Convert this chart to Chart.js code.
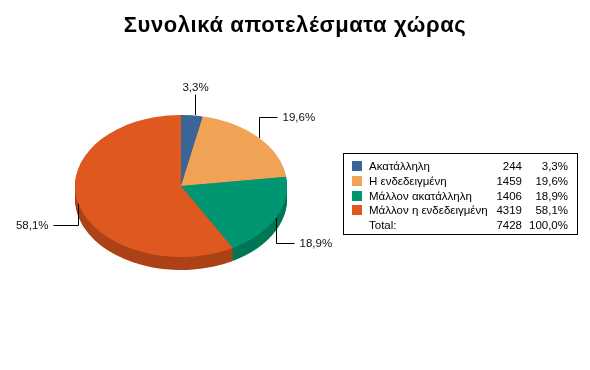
<!DOCTYPE html>
<html>
<head>
<meta charset="utf-8">
<script src="https://cdn.jsdelivr.net/npm/chart.js@4.4.1/dist/chart.umd.min.js"></script>
<style>
  body { margin: 0; background: #fff; font-family: "Liberation Sans", Arial, sans-serif; }
  #wrap { position: relative; width: 590px; height: 370px; }
  #title { position: absolute; left: 0; top: 14px; width: 590px; text-align: center;
           font: bold 22px/21px "Liberation Sans", Arial, sans-serif; letter-spacing: 0.6px; color: #000; }
  #legend { position: absolute; left: 343px; top: 153px; width: 233px; height: 80px;
            border: 1px solid #000; font-size: 11.5px; color: #000; }
  .row { position: absolute; left: 0; height: 15px; width: 233px; line-height: 15px; }
  .sw { position: absolute; left: 8px; top: 2px; width: 10px; height: 10px; }
  .lb { position: absolute; left: 25px; }
  .vl { position: absolute; right: 55px; }
  .pc { position: absolute; right: 9px; }
</style>
</head>
<body>
<div id="wrap">
  <canvas id="myChart" width="590" height="370"></canvas>
  <div id="title">Συνολικά αποτελέσματα χώρας</div>
  <div id="legend"></div>
</div>
<script>
const labels = ['Ακατάλληλη', 'Η ενδεδειγμένη', 'Μάλλον ακατάλληλη', 'Μάλλον η ενδεδειγμένη'];
const counts = [244, 1459, 1406, 4319];
const colors = ['#3b6597', '#f0a354', '#009671', '#de581f'];
const sideColors = ['#2c4c72', '#b57b3f', '#007656', '#ac4217'];

const total = counts.reduce((a, b) => a + b, 0);
const pct = v => (v / total * 100).toFixed(1).replace('.', ',') + '%';

// squash the pie into an ellipse and give it a side
const tilt = 0.67;
const depth = 13;

function squash(ctx, el) {
  ctx.translate(el.x, el.y);
  ctx.scale(1, tilt);
  ctx.translate(-el.x, -el.y);
}

const tiltPlugin = {
  id: 'tilt',
  beforeDatasetsDraw(chart) {
    const ctx = chart.ctx;
    const arcs = chart.getDatasetMeta(0).data;
    for (let d = depth; d >= 1; d--) {
      ctx.save();
      ctx.translate(0, d);
      squash(ctx, arcs[0]);
      arcs.forEach((arc, i) => {
        const bg = arc.options.backgroundColor;
        const bc = arc.options.borderColor;
        arc.options.backgroundColor = sideColors[i];
        arc.options.borderColor = sideColors[i];
        arc.draw(ctx);
        arc.options.backgroundColor = bg;
        arc.options.borderColor = bc;
      });
      ctx.restore();
    }
    ctx.save();
    squash(ctx, arcs[0]);
  },
  afterDatasetsDraw(chart) {
    const ctx = chart.ctx;
    ctx.restore();

    // callout labels
    const arcs = chart.getDatasetMeta(0).data;
    ctx.save();
    ctx.strokeStyle = '#000';
    ctx.lineWidth = 1;
    ctx.fillStyle = '#111';
    ctx.font = '11.5px "Liberation Sans", Arial, sans-serif';
    arcs.forEach((arc, i) => {
      const mid = (arc.startAngle + arc.endAngle) / 2;
      const c = Math.cos(mid);
      const dir = c > 0.2 ? 1 : (c < -0.2 ? -1 : 0);
      const ax = Math.round(arc.x + arc.outerRadius * c + (dir === 0 ? 3 : 0)) + 0.5;
      const ay = Math.round(arc.y + arc.outerRadius * Math.sin(mid) * tilt);
      const up = Math.sin(mid) < 0;
      const ey = up ? ay - 21 : ay + (dir < 0 ? 21 : 25);
      const ex = ax + dir * (dir < 0 ? 25 : 18);
      ctx.beginPath();
      ctx.moveTo(ax, ay);
      ctx.lineTo(ax, Math.round(ey) + 0.5);
      ctx.lineTo(ex, Math.round(ey) + 0.5);
      ctx.stroke();
      const txt = pct(counts[i]);
      if (dir === 0) {
        ctx.textAlign = 'center';
        ctx.textBaseline = 'bottom';
        ctx.fillText(txt, ax, ey);
      } else {
        ctx.textAlign = dir > 0 ? 'left' : 'right';
        ctx.textBaseline = 'middle';
        ctx.fillText(txt, ex + dir * 5, ey + 1);
      }
    });
    ctx.restore();
  }
};

new Chart(document.getElementById('myChart').getContext('2d'), {
  type: 'pie',
  data: {
    labels: labels,
    datasets: [{
      data: counts,
      backgroundColor: colors,
      borderColor: colors,
      borderWidth: 0,
      hoverOffset: 0
    }]
  },
  options: {
    responsive: false,
    animation: false,
    events: [],
    layout: { padding: { left: 75, right: 303, top: 80, bottom: 78 } },
    plugins: {
      legend: { display: false },
      tooltip: { enabled: false }
    }
  },
  plugins: [tiltPlugin]
});

// legend table
const legend = document.getElementById('legend');
const rows = labels.map((l, i) => ({ label: l, color: colors[i], value: counts[i], p: pct(counts[i]) }));
rows.push({ label: 'Total:', color: null, value: total, p: pct(total) });
rows.forEach((r, i) => {
  const row = document.createElement('div');
  row.className = 'row';
  row.style.top = (5 + i * 14.8) + 'px';
  row.innerHTML =
    (r.color ? '<span class="sw" style="background:' + r.color + '"></span>' : '') +
    '<span class="lb">' + r.label + '</span>' +
    '<span class="vl">' + r.value + '</span>' +
    '<span class="pc">' + r.p + '</span>';
  legend.appendChild(row);
});
</script>
</body>
</html>
